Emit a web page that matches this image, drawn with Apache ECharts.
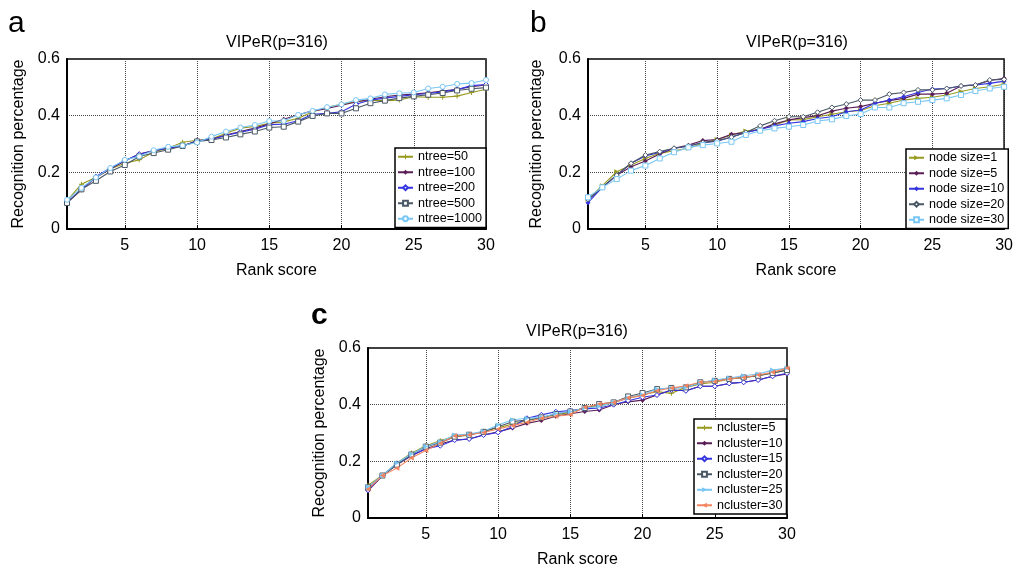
<!DOCTYPE html>
<html>
<head>
<meta charset="utf-8">
<title>VIPeR(p=316)</title>
<script src="https://cdn.jsdelivr.net/npm/echarts@6/dist/echarts.min.js"></script>
<style>
  html, body { margin: 0; padding: 0; background: #fff; }
  #chart { width: 1016px; height: 569px; }
</style>
</head>
<body>
<div id="chart"></div>
<script>
// rank 1..30
const ranks = [1, 2, 3, 4, 5, 6, 7, 8, 9, 10, 11, 12, 13, 14, 15, 16, 17, 18, 19, 20, 21, 22, 23, 24, 25, 26, 27, 28, 29, 30]
const yTicks = [0, 0.2, 0.4, 0.6]

// panel a
const ntree50 = [0.100, 0.158, 0.183, 0.212, 0.232, 0.244, 0.272, 0.285, 0.306, 0.313, 0.318, 0.338, 0.356, 0.362, 0.373, 0.378, 0.391, 0.413, 0.430, 0.440, 0.449, 0.455, 0.453, 0.455, 0.467, 0.465, 0.465, 0.469, 0.482, 0.493]
const ntree100 = [0.092, 0.138, 0.182, 0.212, 0.240, 0.265, 0.277, 0.285, 0.293, 0.311, 0.317, 0.332, 0.344, 0.356, 0.371, 0.387, 0.403, 0.417, 0.425, 0.437, 0.448, 0.458, 0.467, 0.473, 0.476, 0.481, 0.487, 0.493, 0.502, 0.508]
const ntree200 = [0.095, 0.140, 0.185, 0.215, 0.242, 0.264, 0.276, 0.286, 0.293, 0.311, 0.316, 0.330, 0.342, 0.352, 0.368, 0.370, 0.382, 0.405, 0.408, 0.414, 0.440, 0.455, 0.462, 0.468, 0.474, 0.478, 0.484, 0.492, 0.506, 0.510]
const ntree500 = [0.092, 0.140, 0.170, 0.203, 0.226, 0.256, 0.268, 0.280, 0.293, 0.309, 0.314, 0.323, 0.334, 0.344, 0.358, 0.361, 0.379, 0.399, 0.408, 0.408, 0.426, 0.444, 0.453, 0.462, 0.468, 0.474, 0.480, 0.489, 0.495, 0.499]
const ntree1000 = [0.103, 0.145, 0.182, 0.215, 0.244, 0.256, 0.278, 0.290, 0.295, 0.305, 0.326, 0.344, 0.358, 0.367, 0.381, 0.381, 0.403, 0.417, 0.430, 0.440, 0.455, 0.461, 0.475, 0.479, 0.482, 0.496, 0.502, 0.512, 0.515, 0.526]

// panel b
const node1 = [0.105, 0.153, 0.202, 0.226, 0.249, 0.267, 0.276, 0.285, 0.303, 0.316, 0.332, 0.346, 0.352, 0.366, 0.385, 0.386, 0.396, 0.405, 0.414, 0.418, 0.435, 0.444, 0.455, 0.461, 0.465, 0.473, 0.485, 0.496, 0.502, 0.511]
const node5 = [0.103, 0.147, 0.190, 0.220, 0.240, 0.265, 0.285, 0.296, 0.312, 0.316, 0.334, 0.341, 0.352, 0.371, 0.385, 0.393, 0.400, 0.416, 0.426, 0.432, 0.444, 0.453, 0.461, 0.476, 0.476, 0.479, 0.505, 0.508, 0.524, 0.532]
const node10 = [0.093, 0.147, 0.190, 0.232, 0.258, 0.270, 0.285, 0.292, 0.305, 0.310, 0.325, 0.341, 0.352, 0.364, 0.373, 0.379, 0.390, 0.396, 0.414, 0.420, 0.444, 0.455, 0.467, 0.482, 0.494, 0.496, 0.505, 0.508, 0.514, 0.522]
const node20 = [0.105, 0.147, 0.190, 0.232, 0.261, 0.273, 0.285, 0.293, 0.305, 0.312, 0.324, 0.341, 0.364, 0.382, 0.396, 0.396, 0.412, 0.429, 0.441, 0.455, 0.455, 0.476, 0.482, 0.491, 0.491, 0.496, 0.505, 0.508, 0.526, 0.528]
const node30 = [0.112, 0.147, 0.176, 0.206, 0.224, 0.249, 0.271, 0.288, 0.296, 0.302, 0.308, 0.332, 0.347, 0.355, 0.361, 0.367, 0.381, 0.387, 0.399, 0.406, 0.429, 0.429, 0.444, 0.449, 0.455, 0.461, 0.473, 0.487, 0.496, 0.502]

// panel c
const ncluster5 = [0.116, 0.150, 0.194, 0.229, 0.255, 0.273, 0.287, 0.292, 0.306, 0.318, 0.332, 0.344, 0.353, 0.365, 0.372, 0.391, 0.394, 0.408, 0.423, 0.435, 0.446, 0.440, 0.461, 0.473, 0.479, 0.491, 0.496, 0.502, 0.512, 0.522]
const ncluster10 = [0.096, 0.150, 0.188, 0.220, 0.244, 0.261, 0.275, 0.279, 0.293, 0.304, 0.318, 0.334, 0.344, 0.359, 0.368, 0.376, 0.381, 0.400, 0.410, 0.416, 0.434, 0.452, 0.449, 0.465, 0.465, 0.475, 0.479, 0.487, 0.500, 0.508]
const ncluster15 = [0.098, 0.150, 0.192, 0.220, 0.244, 0.255, 0.275, 0.279, 0.293, 0.302, 0.322, 0.352, 0.364, 0.375, 0.379, 0.385, 0.388, 0.400, 0.414, 0.426, 0.434, 0.452, 0.449, 0.465, 0.465, 0.475, 0.479, 0.487, 0.500, 0.511]
const ncluster20 = [0.108, 0.150, 0.188, 0.224, 0.252, 0.266, 0.287, 0.294, 0.304, 0.322, 0.340, 0.346, 0.355, 0.367, 0.376, 0.388, 0.402, 0.408, 0.429, 0.441, 0.455, 0.459, 0.461, 0.479, 0.484, 0.491, 0.496, 0.502, 0.512, 0.522]
const ncluster25 = [0.110, 0.150, 0.194, 0.226, 0.252, 0.269, 0.293, 0.296, 0.306, 0.328, 0.347, 0.352, 0.355, 0.369, 0.376, 0.388, 0.394, 0.408, 0.424, 0.435, 0.455, 0.459, 0.461, 0.477, 0.487, 0.494, 0.502, 0.508, 0.522, 0.529]
const ncluster30 = [0.102, 0.150, 0.176, 0.212, 0.238, 0.264, 0.289, 0.294, 0.302, 0.314, 0.326, 0.338, 0.352, 0.359, 0.365, 0.391, 0.402, 0.408, 0.424, 0.432, 0.449, 0.459, 0.467, 0.479, 0.482, 0.491, 0.496, 0.505, 0.514, 0.529]

const FONT = '"Liberation Sans", Arial, sans-serif'
const OLIVE = '#979a1e'
const PURPLE = '#5a1e56'
const BLUE = '#3434e0'
const SLATE = '#4a5866'
const SKY = '#78c6f4'
const ORANGE = '#f4845f'

const PLUS = 'path://M4,0H6V4H10V6H6V10H4V6H0V4H4Z'
const TRI_R = 'path://M0,0L10,5L0,10Z'
const TRI_L = 'path://M10,0L0,5L10,10Z'

const chart = echarts.init(document.getElementById('chart'))

const grids = [
  { left: 67, top: 59, width: 419, height: 170 },
  { left: 588, top: 59, width: 419, height: 170 },
  { left: 368, top: 348, width: 419, height: 171 }
]

const every5 = (idx) => (idx + 1) % 5 === 0

const xAxes = grids.map((g, i) => ({
  type: 'category',
  gridIndex: i,
  data: ranks,
  boundaryGap: false,
  name: 'Rank score',
  nameLocation: 'middle',
  nameGap: 34,
  nameTextStyle: { fontFamily: FONT, fontSize: 16, color: '#000' },
  axisLine: { onZero: false, lineStyle: { color: '#000', width: 2 } },
  axisTick: { inside: true, length: 4, interval: every5, lineStyle: { color: '#000' } },
  axisLabel: { interval: every5, margin: 9, fontFamily: FONT, fontSize: 16, color: '#000' },
  splitLine: { show: true, interval: every5, lineStyle: { color: '#444', type: 'dotted', width: 1 } }
}))

const yAxes = grids.map((g, i) => ({
  type: 'value',
  gridIndex: i,
  min: yTicks[0],
  max: yTicks[yTicks.length - 1],
  interval: 0.2,
  name: 'Recognition percentage',
  nameLocation: 'middle',
  nameGap: i === 1 ? 43 : 40,
  nameTextStyle: { fontFamily: FONT, fontSize: 16, color: '#000' },
  axisLine: { show: true, lineStyle: { color: '#000', width: 2 } },
  axisTick: { inside: true, length: 4, lineStyle: { color: '#000' } },
  axisLabel: {
    margin: 7, fontFamily: FONT, fontSize: 16, color: '#000',
    formatter: (v) => (v === 0 ? '0' : v.toFixed(1))
  },
  splitLine: { show: true, lineStyle: { color: '#444', type: 'dotted', width: 1 } }
}))

const makeSeries = (name, data, idx, color, symbol, filled) => ({
  name: name,
  type: 'line',
  xAxisIndex: idx,
  yAxisIndex: idx,
  data: data,
  symbol: symbol,
  symbolSize: 5,
  showSymbol: true,
  lineStyle: { color: color, width: 1.1 },
  itemStyle: { color: filled ? color : '#fff', borderColor: color, borderWidth: filled ? 0 : 1 },
  emphasis: { disabled: true },
  animation: false
})

const seriesA = [
  makeSeries('ntree=50', ntree50, 0, OLIVE, PLUS, true),
  makeSeries('ntree=100', ntree100, 0, PURPLE, 'diamond', true),
  makeSeries('ntree=200', ntree200, 0, BLUE, 'diamond', false),
  makeSeries('ntree=500', ntree500, 0, SLATE, 'rect', false),
  makeSeries('ntree=1000', ntree1000, 0, SKY, 'circle', false)
]
const seriesB = [
  makeSeries('node size=1', node1, 1, OLIVE, TRI_R, true),
  makeSeries('node size=5', node5, 1, PURPLE, 'diamond', true),
  makeSeries('node size=10', node10, 1, BLUE, 'diamond', true),
  makeSeries('node size=20', node20, 1, SLATE, 'diamond', false),
  makeSeries('node size=30', node30, 1, SKY, 'rect', false)
]
const seriesC = [
  makeSeries('ncluster=5', ncluster5, 2, OLIVE, PLUS, true),
  makeSeries('ncluster=10', ncluster10, 2, PURPLE, 'diamond', true),
  makeSeries('ncluster=15', ncluster15, 2, BLUE, 'diamond', false),
  makeSeries('ncluster=20', ncluster20, 2, SLATE, 'rect', false),
  makeSeries('ncluster=25', ncluster25, 2, SKY, TRI_R, true),
  makeSeries('ncluster=30', ncluster30, 2, ORANGE, TRI_L, true)
]

const makeLegend = (series, left, top) => ({
  orient: 'vertical',
  left: left,
  top: top,
  data: series.map(s => s.name),
  itemWidth: 15,
  itemHeight: 6,
  itemGap: 2,
  padding: [2, 4, 2, 2],
  backgroundColor: '#fff',
  borderColor: '#000',
  borderWidth: 1.5,
  borderRadius: 0,
  selectedMode: false,
  textStyle: { fontFamily: FONT, fontSize: 12.6, color: '#000', lineHeight: 13.5 },
  z: 10
})

const panelTitle = (cx, top) => ({
  text: 'VIPeR(p=316)',
  left: cx,
  top: top,
  textAlign: 'center',
  padding: 0,
  textStyle: { fontFamily: FONT, fontSize: 16, fontWeight: 'normal', color: '#000' }
})

const option = {
  backgroundColor: '#fff',
  animation: false,
  title: [
    panelTitle(277, 35),
    panelTitle(797, 35),
    panelTitle(577, 324)
  ],
  graphic: [
    { type: 'text', left: 8, top: 9, style: { text: 'a', font: '30px ' + FONT, fill: '#000' } },
    { type: 'text', left: 530, top: 9, style: { text: 'b', font: '30px ' + FONT, fill: '#000' } },
    { type: 'text', left: 311, top: 301, style: { text: 'c', font: 'bold 30px ' + FONT, fill: '#000' } }
  ],
  legend: [
    makeLegend(seriesA, 395, 148),
    makeLegend(seriesB, 906, 149),
    makeLegend(seriesC, 694, 419)
  ],
  grid: grids.map(g => Object.assign({ show: true, borderColor: '#000', borderWidth: 1.5, containLabel: false }, g)),
  xAxis: xAxes,
  yAxis: yAxes,
  series: [].concat(seriesA, seriesB, seriesC)
}

chart.setOption(option)
</script>
</body>
</html>
